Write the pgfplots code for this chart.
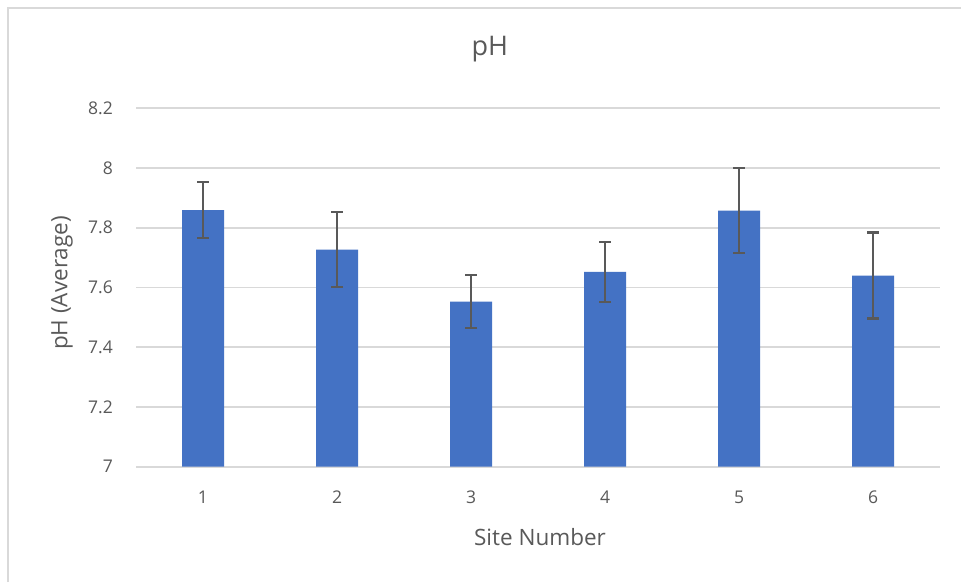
\documentclass[border=0pt]{standalone}
\usepackage{pgfplots}
\pgfplotsset{compat=1.18}
\usepackage{fontspec}
\setmainfont{Open Sans}
\definecolor{barblue}{HTML}{4472C4}
\definecolor{txtgray}{HTML}{595959}
\definecolor{gridgray}{HTML}{D9D9D9}
\definecolor{errgray}{HTML}{595959}
\begin{document}
\begin{tikzpicture}
\path[use as bounding box] (0,0) rectangle (961pt,582pt);
\fill[white] (0,0) rectangle (961pt,582pt);
\draw[gridgray, line width=1.5pt] (8pt,0) -- (8pt,574pt) -- (961pt,574pt);
\begin{axis}[
  at={(136pt,115.3pt)}, anchor=south west,
  scale only axis, width=804pt, height=358.4pt,
  xmin=0.5, xmax=6.5, ymin=7, ymax=8.2,
  axis line style={draw=none},
  axis x line*=bottom,
  xtick={1,2,3,4,5,6},
  ytick={7,7.2,7.4,7.6,7.8,8,8.2},
  yticklabels={7,7.2,7.4,7.6,7.8,8,8.2},
  major tick length=0pt,
  ymajorgrids, grid style={gridgray, line width=1.6pt},
  tick label style={font=\fontsize{17.5}{20}\selectfont, text=txtgray, inner sep=0pt},
  yticklabel style={anchor=east, xshift=-23pt},
  xticklabel style={anchor=north, yshift=-24pt},
  /pgf/number format/assume math mode=true,
  title={pH},
  title style={font=\fontsize{27}{30}\selectfont, text=txtgray, at={(axis description cs:0.44,1.149)}, anchor=center},
  xlabel={Site Number},
  xlabel style={font=\fontsize{22.5}{26}\selectfont, text=txtgray, at={(axis description cs:0.5025,-0.196)}, anchor=center},
  ylabel={pH (Average)},
  ylabel style={font=\fontsize{22.5}{26}\selectfont, text=txtgray, at={(axis description cs:-0.092,0.5126)}, anchor=center, rotate=0},
  clip=false,
]
\draw[gridgray, line width=1.6pt] (axis cs:0.5,7) -- (axis cs:6.5,7);
\addplot[ybar, bar width=42pt, fill=barblue, draw=none,
  error bars/.cd, y dir=both, y explicit,
  error bar style={errgray, line width=2.2pt},
  error mark options={rotate=90, mark size=6pt, errgray, line width=2.2pt}]
  table[x=x, y=y, y error=e] {
  x y e
  1 7.859 0.093
  2 7.727 0.125
  3 7.553 0.089
  4 7.652 0.100
  5 7.857 0.142
  6 7.640 0.144
  };
\end{axis}
\end{tikzpicture}
\end{document}
